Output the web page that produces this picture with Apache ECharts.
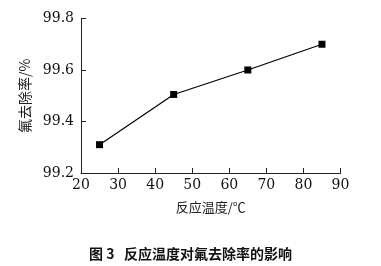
<!DOCTYPE html>
<html><head><meta charset="utf-8">
<script src="https://cdn.jsdelivr.net/npm/echarts@6/dist/echarts.min.js"></script>
<style>html,body{margin:0;padding:0;background:#fff}#c{width:381px;height:266px}</style>
</head><body><div id="c"></div>
<script>
var temps = [25, 45, 65, 85];
var removal = [99.31, 99.505, 99.60, 99.70];
var xTitle = '反应温度/℃';
var yTitle = '氟去除率/%';
var caption = '图 3   反应温度对氟去除率的影响';
var chart = echarts.init(document.getElementById('c'));
var serif = 'DejaVu Serif';
chart.setOption({
  animation: false,
  grid: {left: 81, right: 40.5, top: 18.5, bottom: 93},
  title: {text: caption, left: 'center', top: 242,
    textStyle: {fontFamily: 'Noto Sans CJK SC', fontSize: 14, fontWeight: 'bold', color: '#111'}},
  xAxis: {type: 'value', min: 20, max: 90, interval: 10,
    name: xTitle, nameLocation: 'middle', nameGap: 28,
    nameTextStyle: {fontFamily: 'Noto Sans CJK SC', fontSize: 13, color: '#222'},
    axisLine: {lineStyle: {color: '#222', width: 1}},
    axisTick: {inside: true, length: 5, lineStyle: {color: '#222'}},
    axisLabel: {fontFamily: serif, fontSize: 14, color: '#111', margin: 5},
    splitLine: {show: false}},
  yAxis: {type: 'value', min: 99.2, max: 99.8, interval: 0.2,
    name: yTitle, nameLocation: 'middle', nameGap: 48, nameRotate: 90,
    nameTextStyle: {fontFamily: 'Noto Sans CJK SC', fontSize: 14, color: '#222'},
    axisLine: {show: true, lineStyle: {color: '#222', width: 1}},
    axisTick: {show: true, inside: true, length: 5, lineStyle: {color: '#222'}},
    axisLabel: {fontFamily: serif, fontSize: 14, color: '#111', margin: 7,
      formatter: function(v){return v.toFixed(1);}},
    splitLine: {show: false}},
  series: [{type: 'line', data: temps.map(function(t,i){return [t, removal[i]];}),
    symbol: 'rect', symbolSize: 7,
    lineStyle: {color: '#000', width: 1.2},
    itemStyle: {color: '#000'}}]
});
</script></body></html>
